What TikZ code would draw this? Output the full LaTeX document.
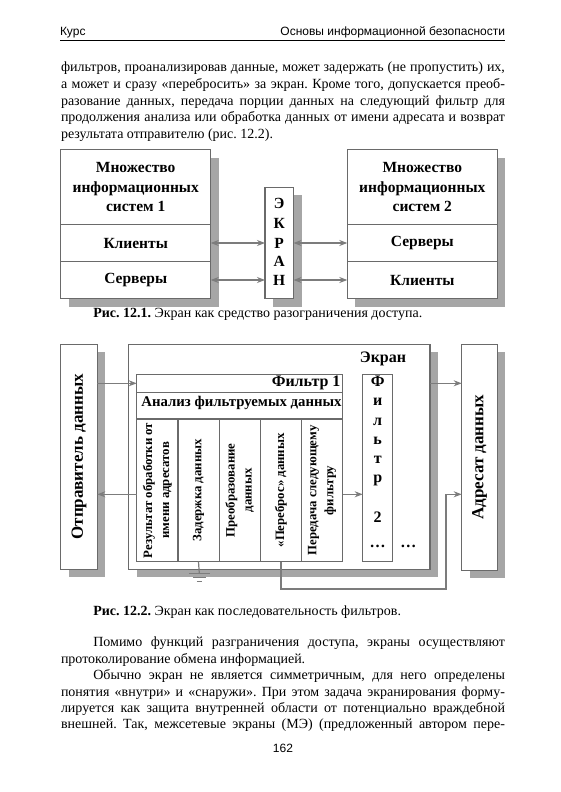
\documentclass[tikz,border=0pt]{standalone}
\usepackage{fontspec}
\setmainfont{Liberation Serif}
\newfontfamily\hdrfont{Liberation Sans}
\usetikzlibrary{arrows.meta,shadows,calc}
\definecolor{boxc}{HTML}{6A6A6A}
\definecolor{shc}{HTML}{A6A6A6}
\definecolor{arrc}{HTML}{7C7C7C}
\frenchspacing
\begin{document}
\begin{tikzpicture}[x=1pt,y=-1pt,
  every node/.style={inner sep=0pt, outer sep=0pt},
  txt/.style={font=\fontsize{14}{16}\selectfont, anchor=base west},
  hdr/.style={font=\hdrfont\fontsize{12}{14}\selectfont},
  bx/.style={draw=boxc, line width=1.2pt, fill=white, anchor=north west},
  shd/.style={drop shadow={shadow xshift=8pt, shadow yshift=-8pt, fill=shc, opacity=1}},
  arr/.style={draw=arrc, line width=1.2pt, -{Stealth[length=8pt,width=6pt]}},
  darr/.style={draw=arrc, line width=1.2pt, {Stealth[length=8pt,width=6pt]}-{Stealth[length=8pt,width=6pt]}},
  lbl/.style={font=\fontsize{15.5}{19.5}\selectfont\bfseries, align=center},
  big/.style={font=\fontsize{16}{19.5}\selectfont\bfseries},
  vert/.style={font=\fontsize{17}{19.5}\selectfont\bfseries, rotate=90},
  colt/.style={font=\fontsize{12.8}{17}\selectfont\bfseries, align=center},
]
\useasboundingbox (0,0) rectangle (560,792);
\fill[white] (0,0) rectangle (560,792);

% header
\node[hdr, anchor=base west] (hl) at (60,36) {Курс};
\node[hdr, anchor=base east] (hr) at (505,36) {Основы информационной безопасности};
\draw[line width=1.8pt] (60,40.5) -- (505,40.5);

% top paragraph
\node[txt] (p1) at (61,71.8) {\makebox[444pt][s]{фильтров, проанализировав данные, может задержать (не пропустить) их,}};
\node[txt] (p2) at (61,88.5) {\makebox[444pt][s]{а может и сразу «перебросить» за экран. Кроме того, допускается преоб-}};
\node[txt] (p3) at (61,105.2) {\makebox[444pt][s]{разование данных, передача порции данных на следующий фильтр для}};
\node[txt] (p4) at (61,121.8) {\makebox[444pt][s]{продолжения анализа или обработка данных от имени адресата и возврат}};
\node[txt] (p5) at (61,138.5) {результата отправителю (рис. 12.2).};

% ---------- figure 12.1 ----------
\node[bx, shd, minimum width=150pt, minimum height=149pt] (L) at (60.7,149.5) {};
\node[bx, lbl, minimum width=150pt, minimum height=75pt] (Lh) at (60.7,149.5) {Множество\\информационных\\систем 1};
\node[bx, lbl, minimum width=150pt, minimum height=37pt] (Lk) at (60.7,224.5) {Клиенты};
\node[bx, lbl, minimum width=150pt, minimum height=37pt] (Ls) at (60.7,261.5) {Серверы};

\node[bx, shd, minimum width=150pt, minimum height=149pt] (R1) at (347.3,149.5) {};
\node[bx, lbl, minimum width=150pt, minimum height=75pt] (Rh) at (347.3,149.5) {Множество\\информационных\\систем 2};
\node[bx, lbl, minimum width=150pt, minimum height=37pt] (Rs) at (347.3,224.5) {Серверы};
\node[bx, lbl, minimum width=150pt, minimum height=37pt] (Rk) at (347.3,261.5) {Клиенты};

\node[bx, shd, minimum width=28.5pt, minimum height=111.2pt] (E) at (265,187.3) {};
\foreach \l/\yy [count=\i] in {Э/203.3,К/223.3,Р/243.3,А/261.7,Н/280}
  \node[font=\fontsize{15.5}{18}\selectfont\bfseries] (e\i) at (279.2,\yy) {\l};

\draw[darr] (Lk.east) -- (Lk.east -| E.west);
\draw[darr] (Ls.east) -- (Ls.east -| E.west);
\draw[darr] (E.east |- Rs.west) -- (Rs.west);
\draw[darr] (E.east |- Rk.west) -- (Rk.west);

\node[txt] (cap1) at (93.3,317.5) {\textbf{Рис. 12.1.} Экран как средство разограничения доступа.};

% ---------- figure 12.2 ----------
\node[bx, shd, minimum width=36.6pt, minimum height=225pt] (S) at (60.7,344.3) {};
\node[vert] (St) at (S.center) {Отправитель данных};
\node[bx, shd, minimum width=301.5pt, minimum height=225pt] (B) at (128.5,344.3) {};
\node[bx, shd, minimum width=35.6pt, minimum height=226pt] (R) at (461.7,344.3) {};
\node[vert] (Rt) at (R.center) {Адресат данных};
\node[big] (ek) at (383,359.3) {Экран};

\node[bx, minimum width=206pt, minimum height=187.4pt] (F1) at (136.7,374.3) {};
\node[bx, minimum width=206pt, minimum height=18pt] (F1h) at (136.7,374.3) {};
\node[big, anchor=east] (f1t) at (340.5,383.3) {Фильтр 1};
\node[bx, minimum width=206pt, minimum height=26.7pt] (F1a) at (136.7,392.3) {};
\node[font=\fontsize{14.8}{18}\selectfont\bfseries] (f1a) at (241.5,402.5) {Анализ фильтруемых данных};
\foreach \t [count=\i] in {{Результат обработки от\\имени адресатов},{Задержка данных},{Преобразование\\данных},{«Переброс» данных},{Передача следующему\\фильтру}}
  \node[draw=boxc, line width=1.2pt, fill=white, colt, rotate=90, minimum width=142.7pt, minimum height=41.2pt] (c\i) at ({136.7+41.2*(\i-0.5)},490.35) {\t};

\node[bx, minimum width=30pt, minimum height=187.4pt] (F2) at (362.7,374.3) {};
\foreach \l/\yy [count=\i] in {Ф/381.7,и/401.7,л/421.7,ь/441,т/460,р/480.7,2/517.3}
  \node[big] (g\i) at (377.7,\yy) {\l};
\node[big] (dotsA) at (377.7,546.7) {\ldots};
\node[big] (dotsB) at (408.3,546.7) {\ldots};

\coordinate (ya) at (0,494.3);
\coordinate (t1) at (446,589);
\coordinate (gnd) at (199.3,573.5);
\draw[arr] (S.east |- F1h.west) -- (F1h.west);
\draw[arr] (F1.west |- ya) -- (S.east |- ya);
\draw[arr] (F1.east |- ya) -- (F2.west |- ya);
\draw[arr] (B.east |- F1h.west) -- (R.west |- F1h.west);
\draw[arr] (c4.center |- F1.south) |- (t1) |- (R.west |- ya);
\draw[draw=arrc, line width=1.2pt] (c2.center |- F1.south) -- (gnd);
\draw[draw=arrc, line width=1.2pt] ($(gnd)+(-10.5,0)$) -- ++(21,0);
\draw[draw=arrc, line width=1.2pt] ($(gnd)+(-6.5,3.8)$) -- ++(13,0);
\draw[draw=arrc, line width=1.2pt] ($(gnd)+(-2.5,7.8)$) -- ++(5,0);

\node[txt] (cap2) at (93.3,615.5) {\textbf{Рис. 12.2.} Экран как последовательность фильтров.};

% bottom paragraphs
\node[txt] (q1) at (93.3,646.8) {\makebox[411.7pt][s]{Помимо функций разграничения доступа, экраны осуществляют}};
\node[txt] (q2) at (61,663.2) {протоколирование обмена информацией.};
\node[txt] (q3) at (93.3,679.6) {\makebox[411.7pt][s]{Обычно экран не является симметричным, для него определены}};
\node[txt] (q4) at (61,696) {\makebox[444pt][s]{понятия «внутри» и «снаружи». При этом задача экранирования форму-}};
\node[txt] (q5) at (61,712.4) {\makebox[444pt][s]{лируется как защита внутренней области от потенциально враждебной}};
\node[txt] (q6) at (61,728.8) {\makebox[444pt][s]{внешней. Так, межсетевые экраны (МЭ) (предложенный автором пере-}};

\node[hdr] (pg) at (283,748) {162};
\end{tikzpicture}
\end{document}
